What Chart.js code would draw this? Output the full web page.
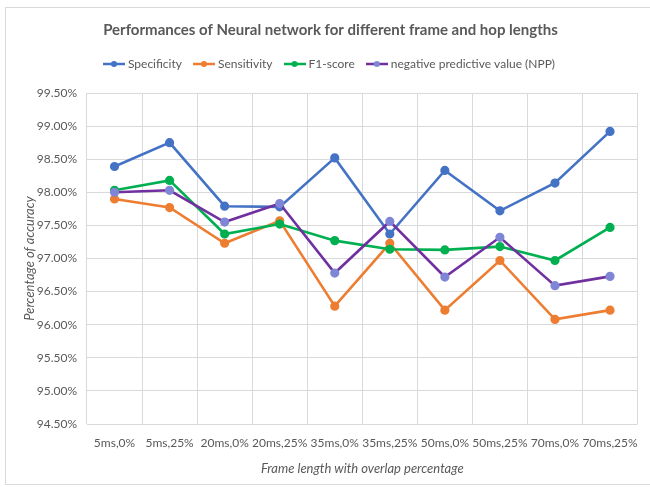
<!DOCTYPE html>
<html>
<head>
<meta charset="utf-8">
<script src="https://cdn.jsdelivr.net/npm/chart.js"></script>
<style>
  html, body { margin: 0; padding: 0; background: #fff; overflow: hidden; }
  #frame { position: absolute; left: 5px; top: 7px; width: 700px; height: 476px; border: 1px solid #d9d9d9; }
  #wrap { position: absolute; left: 0; top: 0; width: 650px; height: 487px; }
</style>
</head>
<body>
<div id="frame"></div>
<div id="wrap"><canvas id="chartPerf"></canvas></div>
<script>
const labels = ["5ms,0%", "5ms,25%", "20ms,0%", "20ms,25%", "35ms,0%", "35ms,25%", "50ms,0%", "50ms,25%", "70ms,0%", "70ms,25%"];
const specificity = [98.39, 98.75, 97.79, 97.78, 98.52, 97.37, 98.33, 97.72, 98.14, 98.92];
const sensitivity = [97.9, 97.77, 97.23, 97.57, 96.28, 97.23, 96.22, 96.97, 96.08, 96.22];
const f1score = [98.03, 98.18, 97.37, 97.52, 97.27, 97.14, 97.13, 97.18, 96.97, 97.47];
const npp = [98.0, 98.03, 97.55, 97.83, 96.78, 97.56, 96.72, 97.32, 96.59, 96.73];

const font = "Lato, 'Liberation Sans', sans-serif";
const grey = "#595959";

// small line + dot marker for the legend
function legendMark(line, dot) {
  const c = document.createElement("canvas");
  c.width = 22;
  c.height = 8;
  const ctx = c.getContext("2d");
  ctx.strokeStyle = line;
  ctx.lineWidth = 2.5;
  ctx.beginPath();
  ctx.moveTo(0, 4);
  ctx.lineTo(22, 4);
  ctx.stroke();
  ctx.fillStyle = dot;
  ctx.beginPath();
  ctx.arc(11, 4, 3, 0, Math.PI * 2);
  ctx.fill();
  return c;
}

function series(label, data, line, dot, order) {
  return {
    label: label,
    data: data,
    borderColor: line,
    backgroundColor: dot,
    pointBackgroundColor: dot,
    pointBorderColor: dot,
    pointRadius: 3.3,
    borderWidth: 2.6,
    tension: 0,
    fill: false,
    order: order,
    mark: legendMark(line, dot),
  };
}

// extra room between the legend and the plot
const legendGap = {
  id: "legendGap",
  beforeInit(chart) {
    const fit = chart.legend.fit;
    chart.legend.fit = function () {
      fit.call(this);
      this.height += 13;
    };
  },
};

new Chart(document.querySelector("#chartPerf"), {
  type: "line",
  data: {
    labels: labels,
    datasets: [
      series("Specificity", specificity, "#4472C4", "#4472C4", 4),
      series("Sensitivity", sensitivity, "#ED7D31", "#ED7D31", 3),
      series("F1-score", f1score, "#00B050", "#00B050", 2),
      series("negative predictive value (NPP)", npp, "#7030A0", "#7F86D6", 1),
    ],
  },
  plugins: [legendGap],
  options: {
    responsive: true,
    maintainAspectRatio: false,
    animation: false,
    layout: { padding: { left: 18, right: 7, top: 21, bottom: 6 } },
    scales: {
      x: {
        offset: true,
        grid: { color: "#d9d9d9", offset: true, drawTicks: false },
        border: { display: false },
        ticks: { color: grey, font: { family: font, size: 12 }, padding: 12, maxRotation: 0, autoSkip: false },
        title: {
          display: true,
          text: "Frame length with overlap percentage",
          color: grey,
          font: { family: font, size: 13, style: "italic" },
          padding: { top: 3 },
        },
        afterFit: (s) => { s.height = 57; },
      },
      y: {
        min: 94.5,
        max: 99.5,
        grid: { color: "#d9d9d9", drawTicks: false },
        border: { display: false },
        ticks: {
          stepSize: 0.5,
          color: grey,
          font: { family: font, size: 12 },
          padding: 10,
          callback: (v) => v.toFixed(2) + "%",
        },
        title: {
          display: true,
          text: "Percentage of accuracy",
          color: grey,
          font: { family: font, size: 13, style: "italic" },
        },
        afterFit: (s) => { s.width = 69; },
      },
    },
    plugins: {
      title: {
        display: true,
        text: "Performances of Neural network for different frame and hop lengths",
        color: grey,
        font: { family: font, size: 15, weight: "bold" },
        padding: { top: 0, bottom: 5 },
      },
      legend: {
        position: "top",
        labels: {
          color: grey,
          font: { family: font, size: 12 },
          usePointStyle: true,
          pointStyleWidth: 16,
          padding: 14,
          generateLabels: (chart) => chart.data.datasets.map((ds, i) => ({
            text: ds.label,
            fontColor: grey,
            pointStyle: ds.mark,
            strokeStyle: ds.borderColor,
            fillStyle: ds.borderColor,
            lineWidth: 0,
            hidden: false,
            datasetIndex: i,
          })),
        },
      },
      tooltip: { enabled: false },
    },
  },
});
</script>
</body>
</html>
